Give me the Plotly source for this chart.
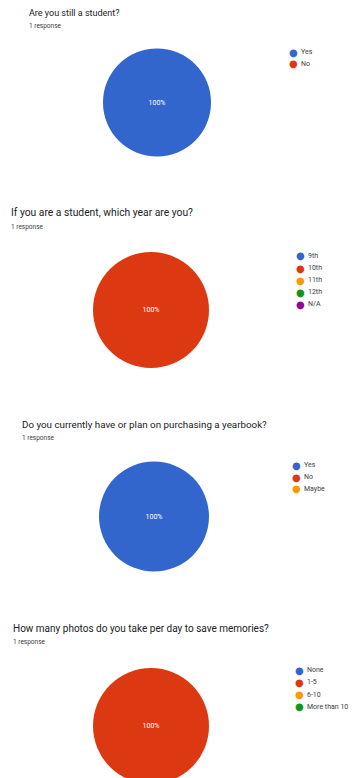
import plotly.graph_objects as go

W, H = 352, 784  # figure slightly taller than the 778 window so the last pie is cut off like in the reference

# ---- data ----
q1_title = "Are you still a student?"
q1_labels = ["Yes", "No"]
q1_values = [1, 0]

q2_title = "If you are a student, which year are you?"
q2_labels = ["9th", "10th", "11th", "12th", "N/A"]
q2_values = [0, 1, 0, 0, 0]

q3_title = "Do you currently have or plan on purchasing a yearbook?"
q3_labels = ["Yes", "No", "Maybe"]
q3_values = [1, 0, 0]

q4_title = "How many photos do you take per day to save memories?"
q4_labels = ["None", "1-5", "6-10", "More than 10"]
q4_values = [0, 1, 0, 0]

subtitle = "1 response"
palette = ["#3366CC", "#DC3912", "#FF9900", "#109618", "#990099"]

# ---- layout (pixel positions) ----
sections = [
    dict(title=q1_title, labels=q1_labels, values=q1_values, box=(103, 211, 48.5, 156.5),
         tx=27, ty=13, tsize=9, sy=26, lx=293, ltx=299, ly=52, lstep=12),
    dict(title=q2_title, labels=q2_labels, values=q2_values, box=(93, 209, 252, 368),
         tx=9, ty=212, tsize=10.3, sy=227, lx=300, ltx=306, ly=256, lstep=12),
    dict(title=q3_title, labels=q3_labels, values=q3_values, box=(99, 209, 461.5, 571.5),
         tx=20, ty=424, tsize=9.8, sy=438, lx=296, ltx=302, ly=465, lstep=12),
    dict(title=q4_title, labels=q4_labels, values=q4_values, box=(93, 209, 668, 784),
         tx=11, ty=628, tsize=10, sy=642, lx=299, ltx=305, ly=670, lstep=12.3),
]

FONT = "Roboto, Arial, sans-serif"

def px(x):
    return x / W

def py(y):
    return 1 - y / H

fig = go.Figure()
annotations = []
for s in sections:
    total = sum(s["values"])
    texts = [f"{v / total:.0%}" if v else "" for v in s["values"]]
    x0, x1, y0, y1 = s["box"]
    fig.add_trace(go.Pie(
        labels=s["labels"], values=s["values"],
        marker=dict(colors=palette[:len(s["labels"])], line=dict(width=0)),
        text=texts, textinfo="text", textposition="inside",
        insidetextfont=dict(color="white", size=7, family=FONT),
        sort=False, direction="clockwise", showlegend=False,
        hoverinfo="label+percent",
        domain=dict(x=[px(x0), px(x1)], y=[py(y1), py(y0)]),
    ))
    annotations.append(dict(text=s["title"], x=px(s["tx"]), y=py(s["ty"]), xref="paper", yref="paper",
                            xanchor="left", yanchor="middle", showarrow=False,
                            font=dict(size=s["tsize"], color="#202124", family=FONT)))
    annotations.append(dict(text=subtitle, x=px(s["tx"]), y=py(s["sy"]), xref="paper", yref="paper",
                            xanchor="left", yanchor="middle", showarrow=False,
                            font=dict(size=6.5, color="#3c4043", family=FONT)))
    for i, lab in enumerate(s["labels"]):
        yy = s["ly"] + i * s["lstep"]
        annotations.append(dict(text="●", x=px(s["lx"]), y=py(yy), xref="paper", yref="paper",
                                xanchor="center", yanchor="middle", showarrow=False,
                                font=dict(size=10, color=palette[i], family="DejaVu Sans")))
        annotations.append(dict(text=lab, x=px(s["ltx"]), y=py(yy), xref="paper", yref="paper",
                                xanchor="left", yanchor="middle", showarrow=False,
                                font=dict(size=7, color="#3c4043", family=FONT)))

fig.update_layout(
    width=W, height=H, margin=dict(l=0, r=0, t=0, b=0),
    paper_bgcolor="white", plot_bgcolor="white",
    annotations=annotations,
)

fig.write_html(
    "out.html",
    post_script="document.documentElement.style.overflow='hidden';document.body.style.overflow='hidden';document.body.style.margin='0';",
)
